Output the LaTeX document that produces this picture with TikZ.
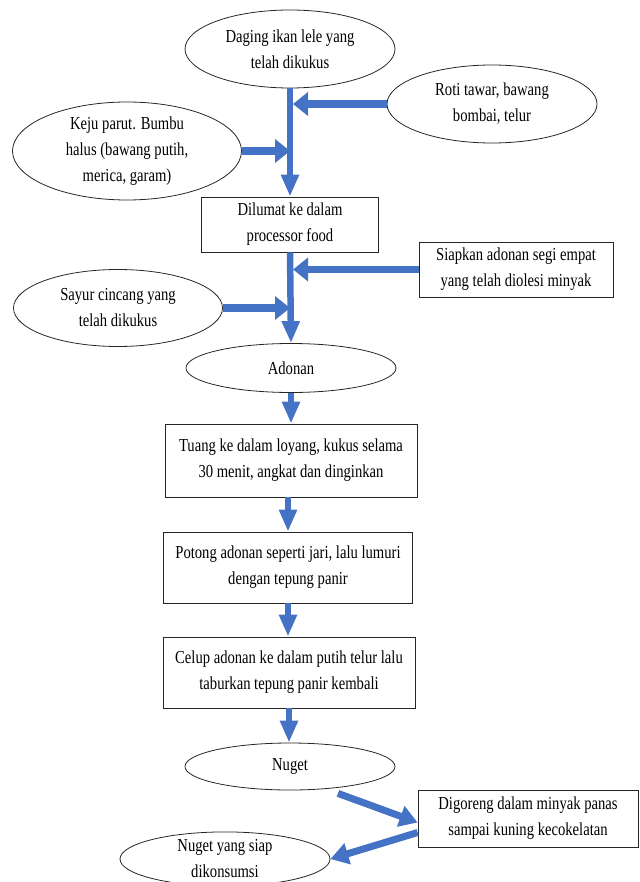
\documentclass[tikz,border=0pt]{standalone}
\usepackage{fontspec}
\setmainfont{Liberation Serif}[FakeStretch=0.8]
\usetikzlibrary{arrows.meta,shapes.geometric}
\definecolor{biru}{HTML}{4472C4}

\begin{document}
\begin{tikzpicture}[x=1pt, y=-1pt,
    every node/.style={font=\fontsize{18.3}{26}\selectfont, align=center, inner sep=0pt},
    oval/.style={draw=black!85, ellipse, line width=0.8pt, minimum width=210pt, minimum height=78pt},
    kotak/.style={draw=black!85, rectangle, line width=0.8pt},
    panahv/.style={draw=biru, line width=6.5pt, -{Triangle[width=17pt,length=22pt]}},
    panahh/.style={draw=biru, line width=7.5pt, -{Triangle[width=23pt,length=15pt]}},
    panahd/.style={draw=biru, line width=7pt, -{Triangle[width=21pt,length=18pt]}}]
    \useasboundingbox (0,0) rectangle (639,882);
    % bahan
    \node[oval] (daging) at (290,49) {Daging ikan lele yang\\telah dikukus};
    \node[oval] (roti) at (492,104) {Roti tawar, bawang\\bombai, telur};
    \node[oval, minimum width=229pt, minimum height=98pt] (keju) at (127,151) {Keju parut. Bumbu\\halus (bawang putih,\\merica, garam)};
    \node[kotak, minimum width=177pt, minimum height=55pt] (dilumat) at (290,224.5) {Dilumat ke dalam\\processor food};
    \node[kotak, minimum width=194pt, minimum height=55pt] (siapkan) at (516,269.5) {Siapkan adonan segi empat\\yang telah diolesi minyak};
    \node[oval, minimum width=209pt, minimum height=77pt] (sayur) at (118,308) {Sayur cincang yang\\telah dikukus};
    \node[oval, minimum height=49pt] (adonan) at (291,368) {Adonan};
    % proses
    \node[kotak, minimum width=252pt, minimum height=73pt] (tuang) at (291,460.5) {Tuang ke dalam loyang, kukus selama\\30 menit, angkat dan dinginkan};
    \node[kotak, minimum width=249pt, minimum height=71pt] (potong) at (288,567.5) {Potong adonan seperti jari, lalu lumuri\\dengan tepung panir};
    \node[kotak, minimum width=252pt, minimum height=71pt] (celup) at (289,672.5) {Celup adonan ke dalam putih telur lalu\\taburkan tepung panir kembali};
    \node[oval, minimum height=47pt] (nuget) at (290,766.5) {Nuget};
    \node[kotak, minimum width=220pt, minimum height=57pt] (goreng) at (528,818.5) {Digoreng dalam minyak panas\\sampai kuning kecokelatan};
    \node[oval, minimum height=48pt] (siap) at (225,859) {Nuget yang siap\\dikonsumsi};

    % panah
    \draw[panahv] (daging.south) -- (dilumat.north);
    \draw[panahh] (roti.west) -- ([xshift=3pt]roti.west -| daging.south);
    \draw[panahh] (keju.east) -- (keju.east -| daging.south);
    \draw[panahv] (dilumat.south) -- (adonan.north);
    \draw[panahh] (siapkan.west) -- ([xshift=3pt]siapkan.west -| dilumat.south);
    \draw[panahh] (sayur.east) -- (sayur.east -| dilumat.south);
    \draw[panahv] (adonan.south) -- (adonan.south |- tuang.north);
    \draw[panahv] (tuang.south -| potong.north) -- (potong.north);
    \draw[panahv] (potong.south) -- (potong.south |- celup.north);
    \draw[panahv] (celup.south) -- (celup.south |- nuget.north);
    \draw[panahd] ([xshift=48pt,yshift=-3pt]nuget.south) -- ([yshift=-4pt]goreng.west);
    \draw[panahd] ([yshift=-14pt]goreng.west) -- (siap.east);
\end{tikzpicture}
\end{document}
